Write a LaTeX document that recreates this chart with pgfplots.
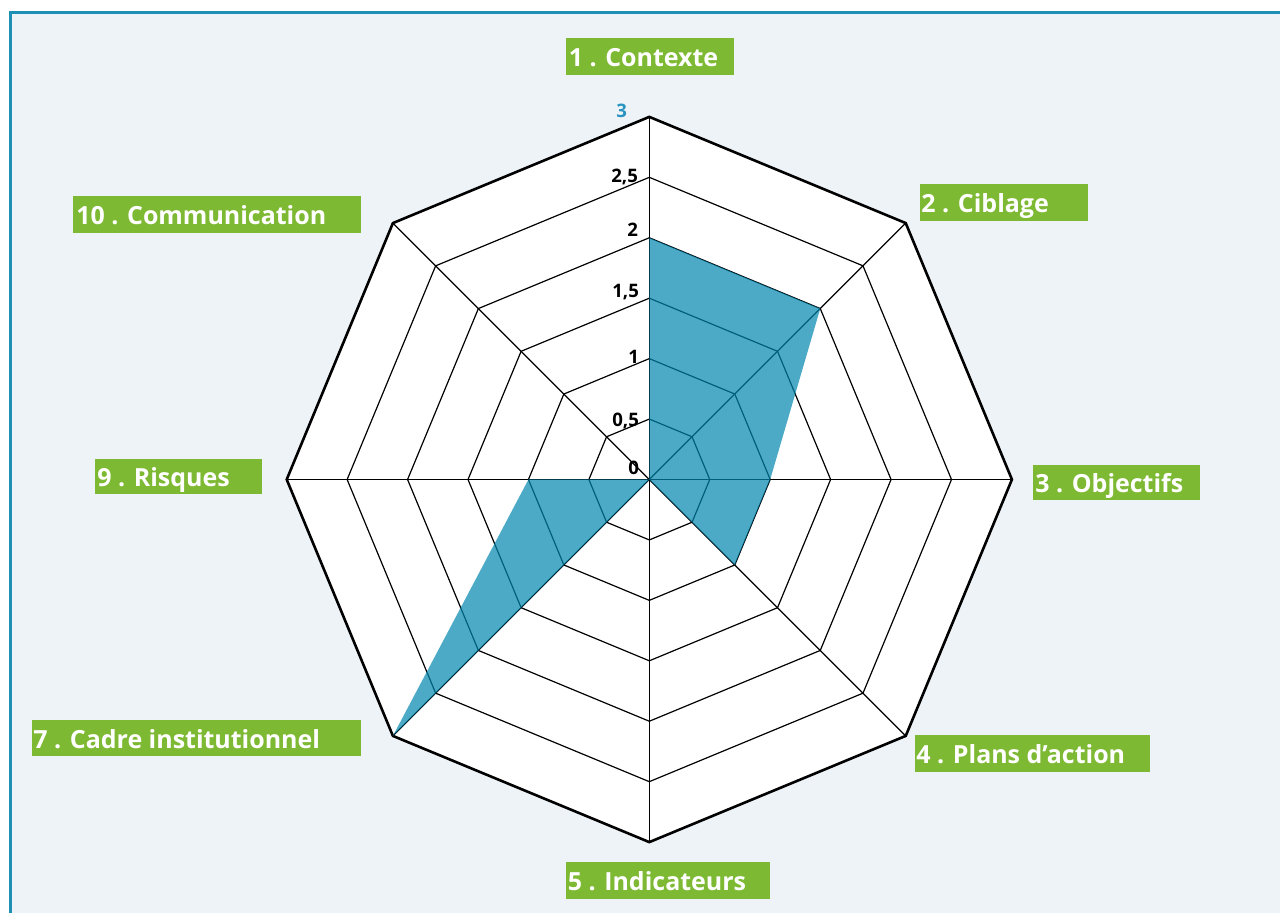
\documentclass[border=0pt]{standalone}
\usepackage{fontspec}
\setmainfont{Open Sans}
\usepackage{pgfplots}
\pgfplotsset{compat=1.18}
\definecolor{bgc}{HTML}{EEF3F8}
\definecolor{bordc}{HTML}{1E8FB5}
\definecolor{lgreen}{HTML}{7DB932}
\definecolor{fillc}{RGB}{0,135,174}
\definecolor{tickblue}{HTML}{2A94C0}
\begin{document}
\begin{tikzpicture}
\begin{scope}[x=0.5pt,y=-0.5pt,shift={(0pt,457pt)}]
  \fill[white] (0,0) rectangle (1281,914);
  \fill[bgc] (10.7,12.3) rectangle (1281,914);
  \draw[bordc, line width=1.35pt] (10.7,914) -- (10.7,12.3) -- (1281,12.3);
\end{scope}
\begin{axis}[at={(0pt,0pt)}, anchor=south west, scale only axis, hide axis, clip=false,
  x=60.5pt, y=60.5pt, xmin=-5.3719, xmax=5.2149, ymin=-3.5868, ymax=3.9669]
  % white octagon background
  \addplot[fill=white, draw=none, data cs=polar] coordinates {(90,3)(45,3)(0,3)(-45,3)(-90,3)(-135,3)(180,3)(135,3)(90,3)};
  % inner rings
  \pgfplotsinvokeforeach{0.5,1,1.5,2,2.5}{
    \addplot[black, line width=0.6pt, data cs=polar] coordinates {(90,#1)(45,#1)(0,#1)(-45,#1)(-90,#1)(-135,#1)(180,#1)(135,#1)(90,#1)};
  }
  % spokes
  \pgfplotsinvokeforeach{90,45,0,-45,-90,-135,180,135}{
    \addplot[black, line width=0.6pt, data cs=polar] coordinates {(#1,0)(#1,3)};
  }
  % outer ring
  \addplot[black, line width=1.3pt, line join=miter, data cs=polar] coordinates {(90,3)(45,3)(0,3)(-45,3)(-90,3)(-135,3)(180,3)(135,3)(90,3)(45,3)};
  % data
  \addplot[fill=fillc, fill opacity=0.7, draw=none, data cs=polar] coordinates {(90,2)(45,2)(0,1)(-45,1)(-90,0)(-135,3)(180,1)(135,0)(90,2)};
\end{axis}
\begin{scope}[x=0.5pt,y=-0.5pt,shift={(0pt,457pt)}]
  % tick labels
  \begin{scope}[every node/.style={anchor=base east, inner sep=0pt, font=\fontsize{9.3}{10}\selectfont\bfseries}]
    \node[text=tickblue] at (628,118) {3};
    \node at (639,183) {2,5};
    \node at (639,237) {2};
    \node at (640,298) {1,5};
    \node at (640,364) {1};
    \node at (640,427) {0,5};
    \node at (640,475) {0};
  \end{scope}
  % category labels
  \begin{scope}[every node/.style={anchor=base west, inner sep=0pt, text=white, font=\fontsize{12.5}{15}\selectfont\bfseries}]
    \fill[lgreen] (567,38) rectangle (735,75);
    \node at (569,66.5) {1 . Contexte};
    \fill[lgreen] (921,184) rectangle (1089,221);
    \node at (922,212.5) {2 . Ciblage};
    \fill[lgreen] (1034,465) rectangle (1201,501);
    \node at (1036,493.5) {3 . Objectifs};
    \fill[lgreen] (916,736) rectangle (1151,773);
    \node at (917,764.5) {4 . Plans d’action};
    \fill[lgreen] (567,863) rectangle (771,900);
    \node at (568,891.5) {5 . Indicateurs};
    \fill[lgreen] (32,721) rectangle (361,757);
    \node at (33,749.5) {7 . Cadre institutionnel};
    \fill[lgreen] (95,459) rectangle (262,495);
    \node at (97,487.5) {9 . Risques};
    \fill[lgreen] (73,196) rectangle (361,233);
    \node at (76,224.5) {10 . Communication};
  \end{scope}
\end{scope}
\end{tikzpicture}
\end{document}
